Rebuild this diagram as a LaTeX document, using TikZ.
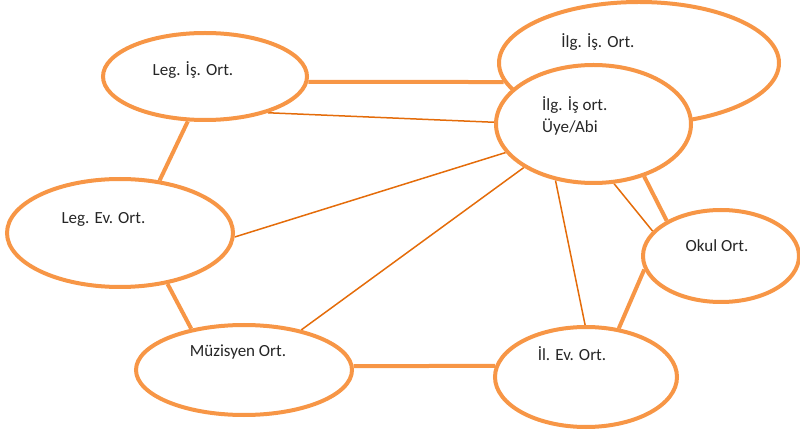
\documentclass[tikz,border=0pt]{standalone}
\usepackage{fontspec}
\setmainfont{Carlito}
\usetikzlibrary{shapes.geometric,backgrounds}
\definecolor{orl}{HTML}{F79646}
\definecolor{ord}{HTML}{E46C0A}
\begin{document}
\begin{tikzpicture}[x=1pt,y=-1pt,
  oval/.style={ellipse,draw=orl,line width=4pt,fill=white,inner sep=0pt},
  thicklink/.style={draw=orl,line width=4pt},
  thinlink/.style={draw=ord,line width=1.5pt},
  lbl/.style={font=\fontsize{17}{22}\selectfont,text=black!85,inner sep=0pt}]
\useasboundingbox (0,0) rectangle (800,435);
% ellipses
\node[oval,minimum width=204pt,minimum height=87pt] (legis) at (205,76.5) {};
\node[oval,minimum width=280pt,minimum height=122pt] (ilg) at (639,63) {};
\node[oval,minimum width=195pt,minimum height=118pt] (ilgu) at (593.5,124) {};
\node[oval,minimum width=226pt,minimum height=108pt] (legev) at (120,233) {};
\node[oval,minimum width=156pt,minimum height=92pt] (okul) at (721,256) {};
\node[oval,minimum width=216pt,minimum height=90pt] (muz) at (244,370) {};
\node[oval,minimum width=182pt,minimum height=100pt] (ilev) at (586,377) {};
% texts
\node[lbl] (legis-t) at (193,70) {Leg. İş. Ort.};
\node[lbl] (ilg-t) at (598,42) {İlg. İş. Ort.};
\node[lbl,anchor=west,align=left] (ilgu-t) at (542,116) {İlg. İş ort.\\Üye/Abi};
\node[lbl] (legev-t) at (103.5,219) {Leg. Ev. Ort.};
\node[lbl] (okul-t) at (717,246) {Okul Ort.};
\node[lbl] (muz-t) at (238,352) {Müzisyen Ort.};
\node[lbl] (ilev-t) at (572,354) {İl. Ev. Ort.};
% connectors
\begin{scope}[on background layer]
\draw[thicklink] (legis.-3) -- (ilg.-172);
\draw[thinlink] (legis.-30.5) -- (ilgu.179);
\draw[thicklink] (legis.-111) -- (legev.53);
\draw[thinlink] (legev.-2.5) -- (ilgu.-162.8);
\draw[thinlink] (muz.35.9) -- (ilgu.-148.4);
\draw[thinlink] (ilev.91) -- (ilgu.-124.9);
\draw[thinlink] (okul.160.6) -- (ilgu.-71.2);
\draw[thicklink] (okul.147.8) -- (ilgu.-46.4);
\draw[thicklink] (okul.-170) -- (ilev.56.6);
\draw[thicklink] (muz.2) -- (ilev.173);
\draw[thicklink] (legev.-47.9) -- (muz.142.5);
\end{scope}
\end{tikzpicture}
\end{document}
